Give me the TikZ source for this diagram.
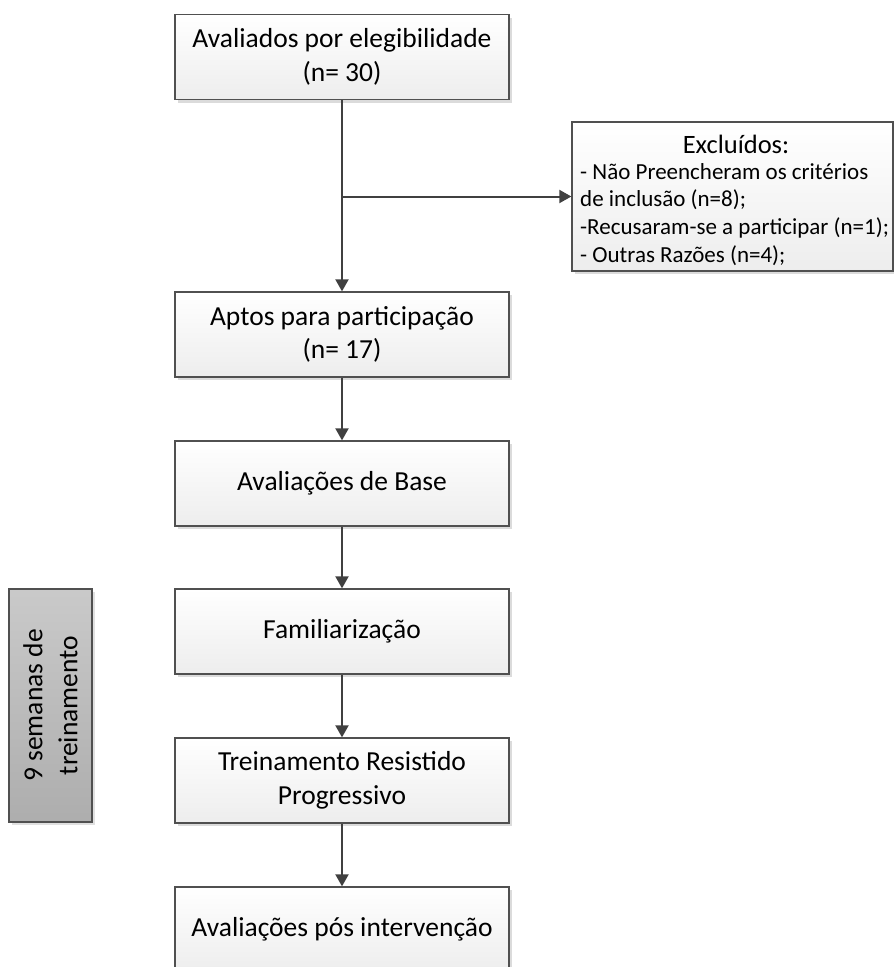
\documentclass[tikz,border=0pt]{standalone}
\usepackage{fontspec}
\setmainfont{Carlito}
\usetikzlibrary{arrows.meta,shadows,positioning}
\definecolor{edge}{HTML}{505050}
\definecolor{arrowc}{HTML}{404040}
\tikzset{
  flowbox/.style={draw=edge, line width=1.3pt, shading=axis, top color=white, bottom color=black!7,
    minimum width=334pt, minimum height=85pt, inner sep=0pt, align=center,
    font=\fontsize{27.5}{33.5}\selectfont,
    drop shadow={shadow xshift=3pt, shadow yshift=-3pt, fill=black!14, opacity=1}},
  excbox/.style={draw=edge, line width=1.3pt, shading=axis, top color=white, bottom color=black!7,
    minimum width=321pt, minimum height=149pt, inner sep=0pt,
    drop shadow={shadow xshift=3pt, shadow yshift=-3pt, fill=black!14, opacity=1}},
  exctitle/.style={anchor=base, inner sep=0pt, font=\fontsize{26.5}{32}\selectfont},
  excline/.style={anchor=base west, inner sep=0pt, font=\fontsize{23}{28}\selectfont},
  graybox/.style={draw=edge, line width=1.3pt, shading=axis, top color=black!21, bottom color=black!32,
    minimum width=83pt, minimum height=233pt, inner sep=0pt,
    drop shadow={shadow xshift=3pt, shadow yshift=-3pt, fill=black!12, opacity=1}},
  flowarrow/.style={draw=arrowc, line width=2pt, -{Triangle[length=12pt,width=13pt]}}
}
\begin{document}
\begin{tikzpicture}[x=1pt,y=-1pt]
\useasboundingbox (0,0) rectangle (894,967);
\node[flowbox] (eleg) at (342,57) {Avaliados por elegibilidade\\(n= 30)};
\node[flowbox] (aptos) at (342,334.5) {Aptos para participação\\(n= 17)};
\node[flowbox] (base) at (342,483.5) {Avaliações de Base};
\node[flowbox] (fam) at (342,631.5) {Familiarização};
\node[flowbox] (trein) at (342,780.5) {Treinamento Resistido\\Progressivo};
\node[flowbox] (pos) at (342,929.5) {Avaliações pós intervenção};
\node[excbox] (exc) at (732.5,196.5) {};
\node[exctitle] (exct) at (736,153) {Excluídos:};
\node[excline] (exc1) at (580,179) {- Não Preencheram os critérios};
\node[excline] (exc2) at (580,206) {de inclusão (n=8);};
\node[excline] (exc3) at (580,234) {-Recusaram-se a participar (n=1);};
\node[excline] (exc4) at (580,262) {- Outras Razões (n=4);};
\node[graybox] (gray) at (50.5,705.5) {};
\node[rotate=90, align=center, inner sep=0pt, font=\fontsize{27.5}{35}\selectfont] (graytext) at (gray.center)
  {9 semanas de\\treinamento};
\coordinate (branch) at (eleg.south |- exc.west);
\draw[flowarrow] (eleg.south) -- (aptos.north);
\draw[flowarrow] (branch) -- (exc.west);
\draw[flowarrow] (aptos.south) -- (base.north);
\draw[flowarrow] (base.south) -- (fam.north);
\draw[flowarrow] (fam.south) -- (trein.north);
\draw[flowarrow] (trein.south) -- (pos.north);
\end{tikzpicture}
\end{document}
